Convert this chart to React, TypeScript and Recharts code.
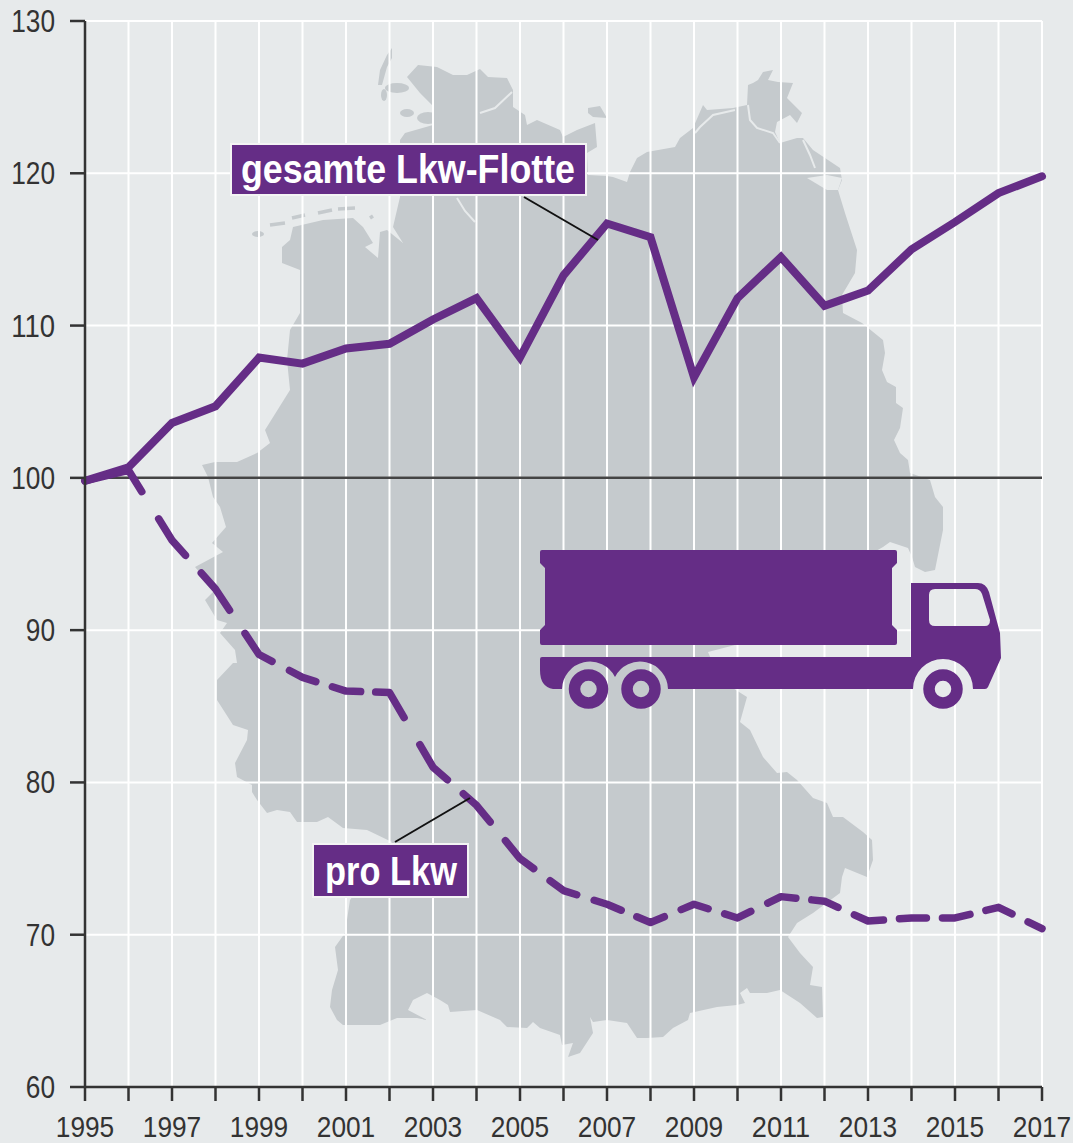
import { CartesianGrid, Line, LineChart, ReferenceLine, XAxis, YAxis } from "recharts";

const YEARS = [1995, 1996, 1997, 1998, 1999, 2000, 2001, 2002, 2003, 2004, 2005, 2006, 2007, 2008, 2009, 2010, 2011, 2012, 2013, 2014, 2015, 2016, 2017];
const FLEET = [99.8, 100.7, 103.6, 104.7, 107.9, 107.5, 108.5, 108.8, 110.4, 111.8, 107.9, 113.3, 116.7, 115.8, 106.6, 111.8, 114.5, 111.3, 112.3, 115, 116.8, 118.7, 119.8];
const PER_TRUCK = [99.8, 100.5, 95.9, 92.7, 88.4, 86.9, 86, 85.9, 81, 78.5, 75, 72.9, 72, 70.8, 72, 71.1, 72.5, 72.2, 70.9, 71.1, 71.1, 71.8, 70.4];
const Y_TICKS = [60, 70, 80, 90, 100, 110, 120, 130];

const data = YEARS.map((year, i) => ({ year, fleet: FLEET[i], perTruck: PER_TRUCK[i] }));

const PURPLE = "#652d86";
const BG = "#e7eaeb";
const LAND = "#c5cacd";
const INK = "#333";
const FONT = '"Liberation Sans", sans-serif';
const DIGIT_WIDTH = 14.6;

// the dashes in the original get longer where the line is steep, so one repeating pair won't do
const DASHES =
  "70 32 45.4 23.8 46.8 27.9 40 19.7 28.7 17.3 29 15 42.8 31.3 45.2 21.2 39.1 24.2 40 20.4 30.5 18.3 28.8 17 29.8 18.3 28.7 17.3 28.3 18.9 29.7 16 27.6 18 30.5 16 27 16 28 16.4 28 17.9 40 20";

// backdrop outline, traced by hand
const GERMANY =
  "M407 77 L418 65 L437 67 L453 75 L467 75 L480 69 L488 77 L507 78 L513 90 L513 107 L525 115 L527 125 L537 120 L560 130 L563 137 L577 130 L595 123 L597 147 L587 153 L588 175 L607 176 L613 177 L627 182 L630 172 L637 158 L647 152 L675 147 L680 138 L693 128 L703 105 L707 110 L733 108 L747 105 L748 85 L753 83 L758 80 L763 72 L773 70 L768 80 L778 82 L793 83 L787 98 L802 113 L797 123 L790 115 L777 122 L775 132 L780 143 L797 138 L803 138 L813 150 L840 168 L842 180 L838 190 L845 213 L857 250 L855 273 L842 295 L843 313 L862 323 L883 340 L885 353 L882 370 L887 382 L896 387 L896 403 L903 408 L900 428 L894 440 L900 453 L908 460 L910 473 L930 480 L935 497 L943 507 L943 530 L935 570 L925 572 L915 567 L912 557 L908 548 L890 542 L883 547 L860 560 L800 600 L735 645 L708 652 L720 680 L747 697 L740 722 L750 730 L763 757 L777 773 L787 772 L797 780 L813 798 L827 803 L833 817 L843 817 L863 832 L872 840 L873 860 L867 877 L845 868 L842 877 L840 893 L813 913 L797 923 L788 937 L800 953 L813 967 L810 985 L822 987 L823 1017 L817 1018 L800 1003 L780 990 L767 993 L750 993 L747 988 L740 993 L745 1003 L737 1005 L717 1007 L690 1013 L688 1020 L673 1028 L663 1037 L647 1038 L637 1038 L627 1023 L607 1020 L593 1022 L590 1017 L593 1033 L580 1053 L568 1057 L573 1043 L562 1045 L560 1035 L540 1028 L533 1022 L527 1028 L507 1027 L500 1020 L477 1010 L450 1012 L448 1005 L440 1000 L427 993 L413 1000 L408 1010 L427 1020 L417 1018 L397 1018 L380 1025 L343 1025 L337 1020 L330 1007 L332 990 L338 970 L335 947 L345 933 L350 900 L392 842 L367 830 L343 828 L328 817 L317 822 L297 822 L290 812 L277 810 L267 813 L257 800 L252 792 L252 785 L237 777 L235 763 L247 740 L248 730 L233 725 L217 700 L217 680 L233 663 L237 663 L235 650 L220 633 L227 623 L217 620 L205 600 L215 590 L195 567 L223 552 L212 543 L226 527 L220 507 L213 497 L208 477 L202 465 L215 462 L237 462 L257 453 L270 443 L265 430 L290 390 L287 360 L290 330 L300 313 L300 270 L282 263 L282 247 L290 240 L293 227 L323 220 L353 218 L363 227 L373 243 L365 247 L378 258 L380 232 L387 230 L403 243 L393 227 L400 197 L400 140 L405 133 L433 125 L432 105 L420 93 Z";
const SYLT = "M392 48 L387 55 L380 70 L378 85 L382 85 L387 67 L392 58 Z";
const FEHMARN = "M588 108 L600 106 L607 118 L593 117 L588 113 Z";
const STETTIN_LAGOON = "M807 178 L827 175 L842 178 L838 190 L827 190 Z";
const WATER_LINES = [
  "M457 198 L465 211 L475 222",
  "M480 113 L495 108 L512 92",
  "M748 105 L750 120 L757 128 L773 133 L780 143",
  "M695 133 L700 127 L713 115 L735 110",
  "M803 140 L810 155 L815 168",
];
const EAST_FRISIAN = "M270 225 L285 223 M292 218 L305 215 M318 213 L332 210 M338 209 L355 208 M370 218 L373 216";

// container, then chassis and cab with the window cut out
const CONTAINER = "M540 552 Q540 550 542 550 L895 550 Q897 550 897 552 L897 563 L892 568 L892 625 L897 630 L897 643 Q897 645 895 645 L542 645 Q540 645 540 643 L540 630 L545 625 L545 568 L540 563 Z";
const CAB =
  "M540 659 Q540 657 542 657 L911 657 L911 583 L978 583 Q986 583 989 592 L1000 633 L1001 658 L988 687 Q987 689 985 689 L973 689 A30 30 0 0 0 913 689 L668 689 A28 28 0 0 0 615 677 A28 28 0 0 0 562 689 L553 689 Q540 687 540 670 Z M935 589 L975 589 Q980 589 982 594 L990 620 Q990 626 985 626 L935 626 Q929 626 929 620 L929 595 Q929 589 935 589 Z";
const WHEELS = [588.5, 641, 943];

function GermanyBackdrop() {
  return (
    <svg width={1073} height={1143} style={{ position: "absolute", left: 0, top: 0 }}>
      <path d={GERMANY} fill={LAND} />
      <path d={SYLT} fill={LAND} />
      <path d={FEHMARN} fill={LAND} />
      <ellipse cx={397} cy={88} rx={12} ry={5} fill={LAND} />
      <ellipse cx={384} cy={95} rx={3} ry={6} fill={LAND} />
      <ellipse cx={428} cy={118} rx={11} ry={6} fill={LAND} />
      <ellipse cx={407} cy={113} rx={7} ry={4} fill={LAND} />
      <ellipse cx={258} cy={234} rx={6} ry={3} fill={LAND} />
      <path d={STETTIN_LAGOON} fill={BG} />
      {WATER_LINES.map((d) => (
        <path key={d} d={d} fill="none" stroke={BG} strokeWidth={2} />
      ))}
      <path d={EAST_FRISIAN} fill="none" stroke={LAND} strokeWidth={3.5} />
    </svg>
  );
}

function Overlay() {
  return (
    <svg width={1073} height={1143} style={{ position: "absolute", left: 0, top: 0 }}>
      <path d={CONTAINER} fill={PURPLE} />
      <path d={CAB} fill={PURPLE} fillRule="evenodd" />
      {WHEELS.map((cx) => (
        <circle key={cx} cx={cx} cy={689} r={14} fill="none" stroke={PURPLE} strokeWidth={11.5} />
      ))}
      <line x1={524} y1={197} x2={598} y2={240} stroke="#111" strokeWidth={2} />
      <line x1={395} y1={842} x2={470} y2={798} stroke="#111" strokeWidth={2} />
      <rect x={231} y={144} width={355} height={51} fill={PURPLE} stroke="#f4f4f4" strokeWidth={2} />
      <text x={241} y={183} fill="#fff" fontFamily={FONT} fontWeight={700} fontSize={40} textLength={334} lengthAdjust="spacingAndGlyphs">
        gesamte Lkw-Flotte
      </text>
      <rect x={313} y={844} width={155} height={53} fill={PURPLE} stroke="#f4f4f4" strokeWidth={2} />
      <text x={325} y={885} fill="#fff" fontFamily={FONT} fontWeight={700} fontSize={40} textLength={132} lengthAdjust="spacingAndGlyphs">
        pro Lkw
      </text>
    </svg>
  );
}

// narrow digits: none of the installed fonts is condensed, so squeeze the text
function YearTick({ x, y, payload }: any) {
  if ((payload.value - 1995) % 2 !== 0) return <g />;
  const label = String(payload.value);
  return (
    <text x={x} y={y + 30.5} textAnchor="middle" fill={INK} fontFamily={FONT} fontSize={30} textLength={label.length * DIGIT_WIDTH} lengthAdjust="spacingAndGlyphs">
      {label}
    </text>
  );
}

function ValueTick({ x, y, payload }: any) {
  const label = String(payload.value);
  return (
    <text x={x} y={y + 11} textAnchor="end" fill={INK} fontFamily={FONT} fontSize={31} textLength={label.length * DIGIT_WIDTH} lengthAdjust="spacingAndGlyphs">
      {label}
    </text>
  );
}

export default function App() {
  return (
    <div style={{ position: "absolute", left: 0, top: 0, width: 1073, height: 1143, background: BG, overflow: "hidden" }}>
      <GermanyBackdrop />
      <div style={{ position: "absolute", left: 0, top: 0 }}>
        <LineChart width={1073} height={1143} data={data} margin={{ top: 21, right: 31, bottom: 0, left: 0 }}>
          <CartesianGrid stroke="#fff" strokeWidth={2} />
          <XAxis
            dataKey="year"
            type="number"
            domain={[1995, 2017]}
            ticks={YEARS}
            interval={0}
            height={56}
            tickSize={14}
            tickMargin={5}
            tick={<YearTick />}
            stroke={INK}
            strokeWidth={2.5}
          />
          <YAxis
            type="number"
            domain={[60, 130]}
            ticks={Y_TICKS}
            interval={0}
            width={85}
            tickSize={15}
            tickMargin={15}
            tick={<ValueTick />}
            stroke={INK}
            strokeWidth={2.5}
          />
          <ReferenceLine y={100} stroke="#444" strokeWidth={2.5} />
          <Line dataKey="perTruck" stroke={PURPLE} strokeWidth={7.5} strokeDasharray={DASHES} strokeLinecap="round" strokeLinejoin="round" dot={false} isAnimationActive={false} />
          <Line dataKey="fleet" stroke={PURPLE} strokeWidth={8} strokeLinecap="round" strokeLinejoin="miter" dot={false} isAnimationActive={false} />
        </LineChart>
      </div>
      <Overlay />
    </div>
  );
}
